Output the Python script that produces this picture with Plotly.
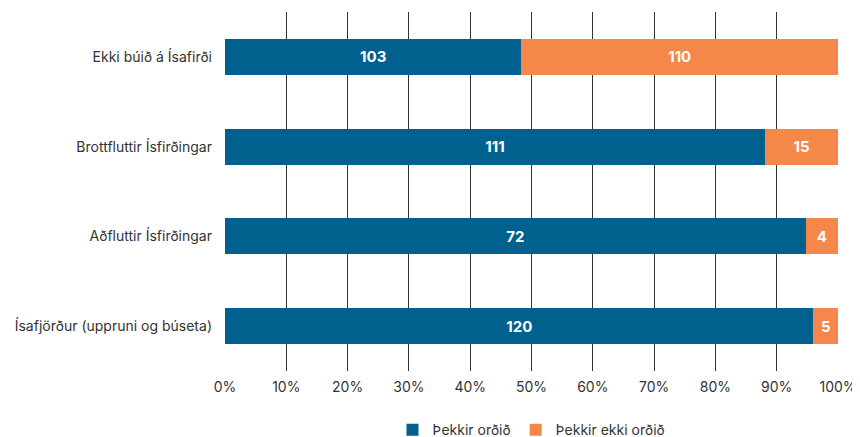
import plotly.graph_objects as go

categories = ["Ekki búið á Ísafirði", "Brottfluttir Ísfirðingar", "Aðfluttir Ísfirðingar", "Ísafjörður (uppruni og búseta)"]
thekkir = [103, 111, 72, 120]
thekkir_ekki = [110, 15, 4, 5]
series_names = ["Þekkir orðið", "Þekkir ekki orðið"]
tick_vals = [0, 10, 20, 30, 40, 50, 60, 70, 80, 90, 100]
tick_labels = ["0%", "10%", "20%", "30%", "40%", "50%", "60%", "70%", "80%", "90%", "100%"]

totals = [a + b for a, b in zip(thekkir, thekkir_ekki)]
pct_a = [a / t * 100 for a, t in zip(thekkir, totals)]
pct_b = [b / t * 100 for b, t in zip(thekkir_ekki, totals)]

colors = ["#00618F", "#F5874A"]
font_family = "Inter, Roboto, sans-serif"

fig = go.Figure()
for name, pct, vals, col in [(series_names[0], pct_a, thekkir, colors[0]),
                             (series_names[1], pct_b, thekkir_ekki, colors[1])]:
    fig.add_trace(go.Bar(
        y=categories, x=pct, orientation="h", name=name,
        marker=dict(color=col, line=dict(width=0)),
        text=[str(v) for v in vals], textposition="inside",
        insidetextanchor="middle",
        textfont=dict(color="white", size=15, family=font_family, weight="bold"),
        hoverinfo="skip",
    ))

# page body has an 8px default margin, so the figure is offset by 8px
fig.update_layout(
    barmode="stack", bargap=0.6,
    width=852, height=429,
    margin=dict(l=217, r=22, t=4, b=66),
    plot_bgcolor="white", paper_bgcolor="white",
    font=dict(family=font_family, size=14, color="#333333"),
    xaxis=dict(range=[0, 100], tickvals=tick_vals, ticktext=tick_labels,
               showgrid=True, gridcolor="#333333", gridwidth=1,
               zeroline=False, showline=False, ticks="", ticklabelstandoff=6,
               automargin=False,
               tickfont=dict(size=14, color="#333333")),
    yaxis=dict(autorange="reversed", showgrid=False, ticks="", ticklabelstandoff=12,
               automargin=False,
               tickfont=dict(size=14, color="#333333")),
    legend=dict(orientation="h", x=0.5, xanchor="center", yref="container",
                y=0.016, yanchor="middle", itemwidth=30,
                font=dict(size=14, color="#333333"), traceorder="normal"),
    uniformtext=dict(minsize=10, mode="show"),
)

fig.write_html("out.html")
